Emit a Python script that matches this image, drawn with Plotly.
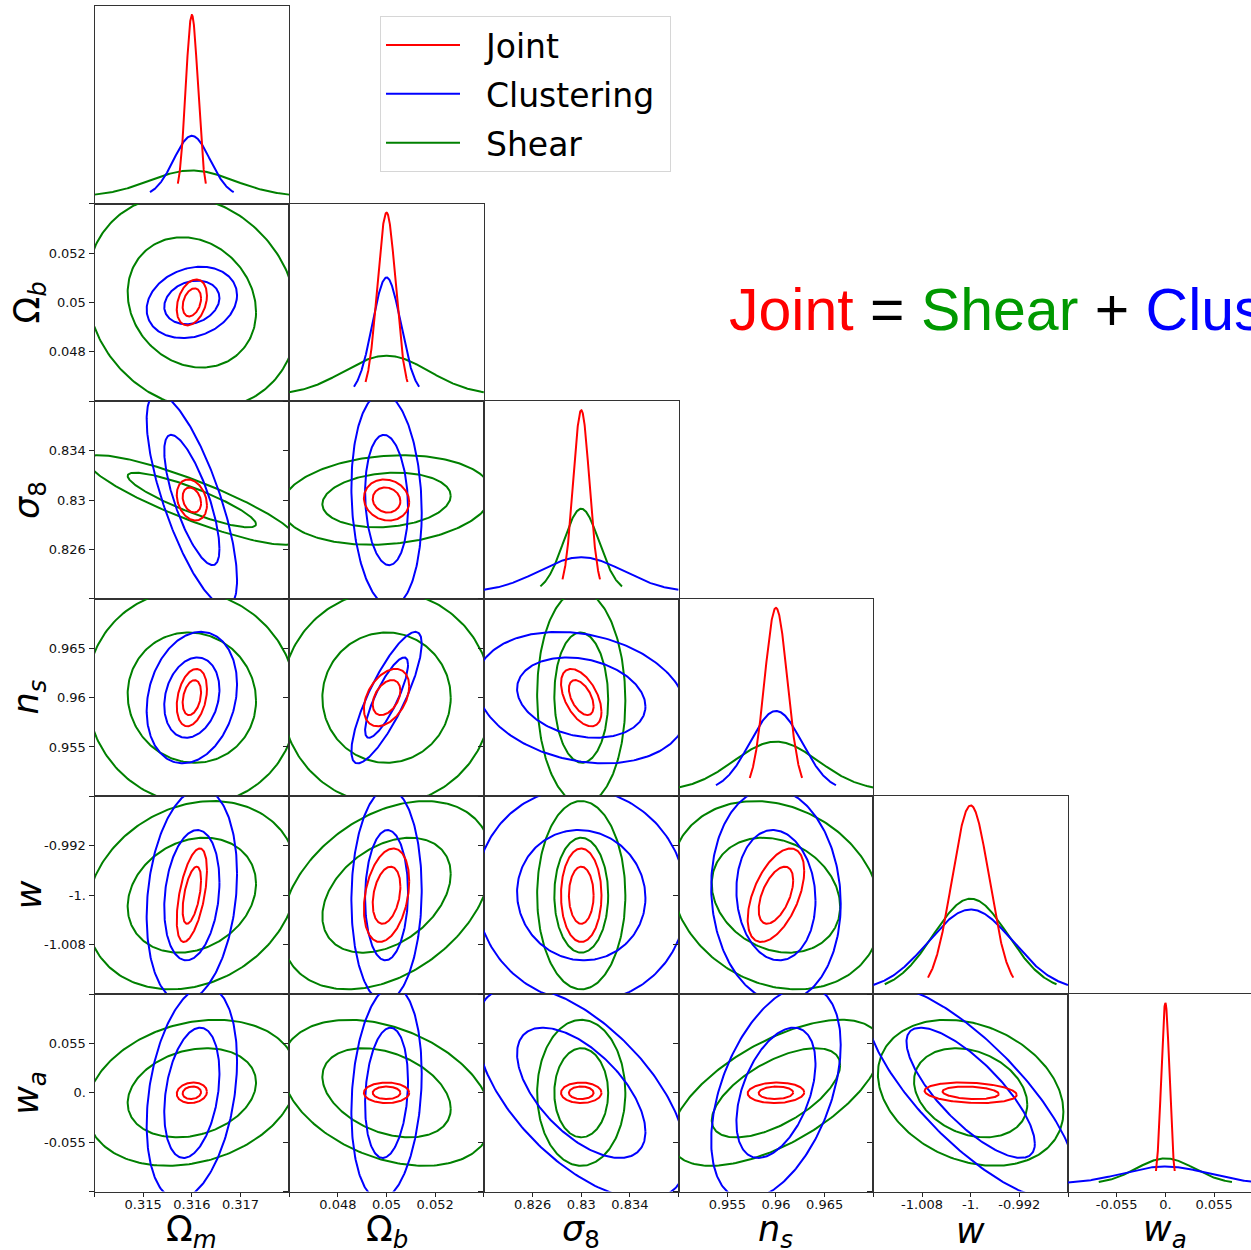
import numpy as np
import plotly.graph_objects as go

# ---------------- data ----------------
params = ["Om", "Ob", "s8", "ns", "w", "wa"]
axis_labels = ["Ω<sub><i>m</i></sub>", "Ω<sub><i>b</i></sub>", "<i>σ</i><sub>8</sub>",
               "<i>n</i><sub><i>s</i></sub>", "<i>w</i>", "<i>w</i><sub><i>a</i></sub>"]
fiducial = [0.316, 0.05, 0.83, 0.96, -1.0, 0.0]

probes = ["Shear", "Clustering", "Joint"]
colors = {"Joint": "#ff0000", "Clustering": "#0000ff", "Shear": "#008000"}

sigma_joint = [0.000125, 0.000375, 0.000670, 0.00117, 0.00305, 0.00460]
sigma_clustering = [0.000374, 0.000582, 0.00348, 0.00268, 0.00696, 0.0478]
sigma_shear = [0.00087, 0.00174, 0.00146, 0.00435, 0.00614, 0.0327]

# correlation coefficients, lower triangle: row i (param i+1) vs params 0..i
rho_joint = [[0.30],
             [-0.25, -0.10],
             [0.30, 0.40, -0.50],
             [0.53, 0.30, 0.00, 0.52],
             [0.10, 0.00, 0.00, 0.05, -0.20]]
rho_clustering = [[0.20],
                  [-0.75, -0.12],
                  [0.20, 0.82, -0.22],
                  [0.20, 0.05, -0.04, -0.08],
                  [0.30, 0.18, -0.60, 0.45, -0.78]]
rho_shear = [[-0.15],
             [-0.88, 0.15],
             [-0.05, 0.00, -0.03],
             [0.20, 0.37, 0.00, -0.20],
             [0.23, -0.36, 0.00, 0.62, -0.26]]

tick_vals = [[0.315, 0.316, 0.317], [0.048, 0.05, 0.052], [0.826, 0.83, 0.834],
             [0.955, 0.96, 0.965], [-1.008, -1.0, -0.992], [-0.055, 0.0, 0.055]]
tick_text = [["0.315", "0.316", "0.317"], ["0.048", "0.05", "0.052"], ["0.826", "0.83", "0.834"],
             ["0.955", "0.96", "0.965"], ["-1.008", "-1.", "-0.992"], ["-0.055", "0.", "0.055"]]

legend_order = ["Joint", "Clustering", "Shear"]

sigmas = {"Joint": sigma_joint, "Clustering": sigma_clustering, "Shear": sigma_shear}
rhos = {"Joint": rho_joint, "Clustering": rho_clustering, "Shear": rho_shear}

# ---------------- layout geometry ----------------
W, H = 1251, 1250
left0, cw = 94.5, 194.7
top0, rh = 6.0, 197.6
n = len(params)
KS = [np.sqrt(2.30), np.sqrt(6.17)]   # 68% and 95% 2D contours
CUT = 2.3                              # 1D curves / axis half-range in sigma

half_range = [CUT * max(sigmas[p][k] for p in probes) for k in range(n)]
tickfont = dict(family="DejaVu Sans", size=13, color="#111")

fig = go.Figure()
layout = dict()
ax = 0
for i in range(n):
    for j in range(i + 1):
        ax += 1
        xa = "x" if ax == 1 else f"x{ax}"
        ya = "y" if ax == 1 else f"y{ax}"
        xkey = "xaxis" if ax == 1 else f"xaxis{ax}"
        ykey = "yaxis" if ax == 1 else f"yaxis{ax}"
        x0 = (left0 + j * cw) / W
        x1 = min((left0 + (j + 1) * cw) / W, 1.0)
        frac = (min(left0 + (j + 1) * cw, W) - (left0 + j * cw)) / cw
        y1 = 1 - (top0 + i * rh) / H
        y0 = 1 - (top0 + (i + 1) * rh) / H
        mux, Rx = fiducial[j], half_range[j]
        xr = [mux - Rx, mux - Rx + 2 * Rx * frac]
        last_row = (i == n - 1)
        xaxis = dict(domain=[x0, x1], anchor=ya, range=xr, showgrid=False, zeroline=False,
                     showline=True, mirror=True, linecolor="#333333", linewidth=1,
                     tickmode="array",
                     tickvals=[mux - Rx] + tick_vals[j] + [mux + Rx],
                     ticktext=[""] + tick_text[j] + [""],
                     ticks="outside" if last_row else "", ticklen=4, tickwidth=1, tickcolor="#222",
                     showticklabels=last_row, ticklabelstandoff=-3,
                     tickfont=tickfont)
        if i == j:
            # 1D marginals
            ymax, ymin = -1e99, 1e99
            for p in probes:
                s = sigmas[p][i]
                xs = np.linspace(fiducial[i] - CUT * s, fiducial[i] + CUT * s, 300)
                ys = np.exp(-0.5 * ((xs - fiducial[i]) / s) ** 2) / (s * np.sqrt(2 * np.pi))
                ymax, ymin = max(ymax, ys.max()), min(ymin, ys.min())
                fig.add_trace(go.Scatter(x=xs, y=ys, mode="lines", xaxis=xa, yaxis=ya,
                                         line=dict(color=colors[p], width=2),
                                         name=p, legendgroup=p, showlegend=False,
                                         hoverinfo="skip"))
            span = ymax - ymin
            yaxis = dict(domain=[y0, y1], anchor=xa, range=[ymin - 0.05 * span, ymax + 0.05 * span],
                         showgrid=False, zeroline=False, showline=True,
                         mirror=(j != n - 1), linecolor="#333333", linewidth=1,
                         showticklabels=False, ticks="")
        else:
            muy, Ry = fiducial[i], half_range[i]
            for p in probes:
                sx, sy = sigmas[p][j], sigmas[p][i]
                r = rhos[p][i - 1][j]
                t = np.linspace(0, 2 * np.pi, 241)
                for k in KS:
                    ex = mux + k * sx * np.cos(t)
                    ey = muy + k * sy * (r * np.cos(t) + np.sqrt(1 - r * r) * np.sin(t))
                    fig.add_trace(go.Scatter(x=ex, y=ey, mode="lines", xaxis=xa, yaxis=ya,
                                             line=dict(color=colors[p], width=2),
                                             name=p, legendgroup=p, showlegend=False,
                                             hoverinfo="skip"))
            yaxis = dict(domain=[y0, y1], anchor=xa, range=[muy - Ry, muy + Ry],
                         showgrid=False, zeroline=False, showline=True, mirror=True,
                         linecolor="#333333", linewidth=1,
                         tickmode="array",
                         tickvals=[muy - Ry] + tick_vals[i] + [muy + Ry],
                         ticktext=[""] + tick_text[i] + [""],
                         ticks="outside", ticklen=5, tickwidth=1, tickcolor="#222",
                         showticklabels=(j == 0),
                         tickfont=tickfont)
        layout[xkey] = xaxis
        layout[ykey] = yaxis

# legend entries (one visible trace per probe)
for rank, p in enumerate(legend_order):
    fig.add_trace(go.Scatter(x=[None], y=[None], mode="lines", xaxis="x", yaxis="y",
                             line=dict(color=colors[p], width=2),
                             name="\u00a0\u00a0" + p + "\u00a0",
                             legendgroup=p, showlegend=True, legendrank=rank + 1))

annotations = []
for j in range(n):
    cx = (left0 + (j + 0.5) * cw) / W
    annotations.append(dict(text=axis_labels[j], x=cx, y=1 - 1231 / H, xref="paper", yref="paper",
                            xanchor="center", yanchor="middle", showarrow=False,
                            font=dict(family="DejaVu Sans", size=35, color="#000")))
for i in range(1, n):
    cy = 1 - (top0 + (i + 0.5) * rh) / H
    annotations.append(dict(text=axis_labels[i], x=29 / W, y=cy, xref="paper", yref="paper",
                            xanchor="center", yanchor="middle", textangle=-90, showarrow=False,
                            font=dict(family="DejaVu Sans", size=35, color="#000")))
annotations.append(dict(
    text=("<span style='color:#ff0000'>Joint</span> = <span style='color:#009900'>Shear</span>"
          " + <span style='color:#0000ff'>Clustering</span>"),
    x=727 / W, y=1 - 310 / H, xref="paper", yref="paper", xanchor="left", yanchor="middle",
    showarrow=False, font=dict(family="Liberation Sans", size=59, color="#000")))

fig.update_layout(
    width=W, height=H, margin=dict(l=0, r=0, t=0, b=0),
    paper_bgcolor="white", plot_bgcolor="white",
    showlegend=True,
    legend=dict(x=380 / W, y=1 - 16 / H, xanchor="left", yanchor="top",
                font=dict(family="DejaVu Sans", size=33, color="#000"),
                bgcolor="white", bordercolor="#d6d6d6", borderwidth=1,
                itemwidth=74, tracegroupgap=3),
    annotations=annotations,
    **layout)

fig.write_html("out.html", config={"displayModeBar": False},
               post_script="document.body.style.margin='0px';")
